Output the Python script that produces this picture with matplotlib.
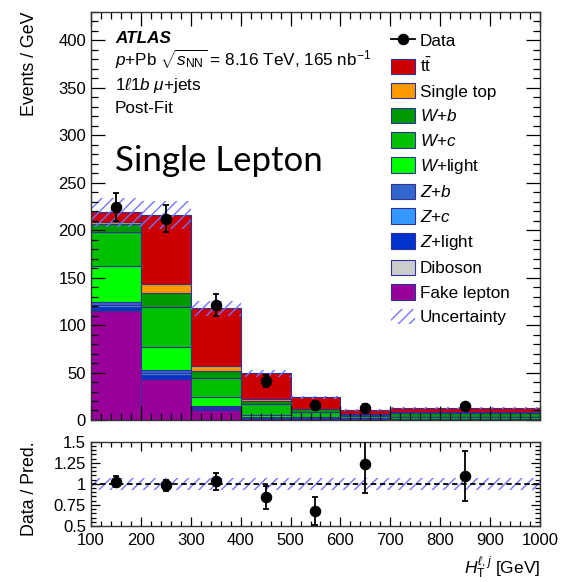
import numpy as np
import matplotlib
matplotlib.use("Agg")
import matplotlib.pyplot as plt
from matplotlib.patches import Patch
from matplotlib.lines import Line2D
from matplotlib.ticker import MultipleLocator, FixedLocator, FuncFormatter

plt.rcParams['font.family'] = ['Liberation Sans', 'DejaVu Sans']
plt.rcParams['mathtext.fontset'] = 'custom'
plt.rcParams['mathtext.rm'] = 'Liberation Sans'
plt.rcParams['mathtext.it'] = 'Liberation Sans:italic'
plt.rcParams['mathtext.bf'] = 'Liberation Sans:bold'
plt.rcParams['hatch.linewidth'] = 1.0

# binning in H_T (GeV)
bin_edges = [100, 200, 300, 400, 500, 600, 700, 1000]
bin_centers = [150, 250, 350, 450, 550, 650, 850]

# post-fit predictions, events / GeV, stacked bottom -> top
fake_lepton = [115.0, 43.2, 10.5, 1.5, 0.8, 0.3, 0.2]
diboson = [0.5, 0.5, 0.3, 0.2, 0.1, 0.1, 0.1]
z_light = [4.0, 3.5, 2.0, 0.8, 0.3, 0.3, 0.2]
z_c = [2.0, 2.5, 1.0, 0.5, 0.3, 0.2, 0.2]
z_b = [2.5, 3.0, 1.0, 0.5, 0.3, 0.2, 0.3]
w_light = [38.0, 24.5, 9.8, 1.8, 1.5, 0.5, 0.4]
w_c = [35.6, 42.1, 19.3, 11.5, 5.5, 2.5, 2.0]
w_b = [9.4, 14.1, 7.7, 3.5, 2.5, 1.5, 4.4]
single_top = [2.0, 9.8, 5.3, 1.4, 0.6, 0.4, 0.5]
ttbar = [9.7, 72.7, 60.7, 27.5, 12.0, 4.5, 4.7]

data = [224.7, 212.3, 121.0, 41.3, 16.2, 13.0, 14.2]
data_err = [15.0, 14.7, 11.6, 6.5, 4.1, 3.6, 3.9]
rel_syst = [0.07, 0.07, 0.07, 0.07, 0.07, 0.07, 0.07]

samples = [
    (fake_lepton, '#990099', 'Fake lepton'),
    (diboson, '#cccccc', 'Diboson'),
    (z_light, '#0033cc', r'$Z$+light'),
    (z_c, '#3399ff', r'$Z$+$c$'),
    (z_b, '#3366cc', r'$Z$+$b$'),
    (w_light, '#00ff00', r'$W$+light'),
    (w_c, '#00c000', r'$W$+$c$'),
    (w_b, '#009900', r'$W$+$b$'),
    (single_top, '#ff9900', 'Single top'),
    (ttbar, '#cc0000', r'$\mathrm{t\bar{t}}$'),
]

edges = np.array(bin_edges, dtype=float)
widths = np.diff(edges)
centers = np.array(bin_centers, dtype=float)

fig = plt.figure(figsize=(5.74, 5.82), dpi=100)
ax = fig.add_axes([0.1585, 0.2784, 0.7823, 0.7010])
axr = fig.add_axes([0.1585, 0.0962, 0.7823, 0.1449], sharex=ax)

outline = '#30309a'
hatch_col = '#7373ff'
bottom = np.zeros(len(widths))
for vals, col, lab in samples:
    v = np.array(vals)
    ax.bar(edges[:-1], v, width=widths, bottom=bottom, align='edge',
           color=col, edgecolor=outline, linewidth=0.8)
    bottom = bottom + v
total = bottom

unc = total * np.array(rel_syst)
ax.bar(edges[:-1], 2 * unc, width=widths, bottom=total - unc, align='edge',
       fill=False, hatch='///', edgecolor=hatch_col, linewidth=0)

ax.errorbar(centers, data, yerr=data_err, fmt='o', color='k', ms=7.3,
            elinewidth=1.3, capsize=2.5, capthick=1.3, zorder=5)

ax.set_xlim(100, 1000)
ax.set_ylim(0, 430)
ax.yaxis.set_major_locator(MultipleLocator(50))
ax.yaxis.set_minor_locator(MultipleLocator(10))
ax.xaxis.set_major_locator(MultipleLocator(100))
ax.xaxis.set_minor_locator(MultipleLocator(20))
ax.tick_params(axis='both', which='both', direction='in', top=True, right=True,
               labelsize=12, labelbottom=False)
ax.tick_params(which='major', length=10, width=0.9)
ax.tick_params(which='minor', length=5, width=0.9)

# ratio panel
ratio = np.array(data) / total
ratio_err = np.array(data_err) / total
axr.bar(edges[:-1], 2 * np.array(rel_syst), width=widths, bottom=1 - np.array(rel_syst),
        align='edge', fill=False, hatch='///', edgecolor=hatch_col, linewidth=0)
axr.axhline(1.0, color='k', ls='--', lw=1.3, dashes=(3, 2))
axr.errorbar(centers, ratio, yerr=ratio_err, fmt='o', color='k', ms=7.3,
             elinewidth=1.3, capsize=2.5, capthick=1.3, zorder=5)
axr.set_ylim(0.5, 1.5)
axr.yaxis.set_major_locator(FixedLocator([0.5, 0.75, 1.0, 1.25, 1.5]))
axr.yaxis.set_minor_locator(MultipleLocator(0.05))
axr.yaxis.set_major_formatter(FuncFormatter(lambda v, p: '%g' % v))
axr.tick_params(axis='both', which='both', direction='in', top=True, right=True,
                labelsize=12)
axr.tick_params(axis='x', pad=5)
axr.tick_params(which='major', length=6.5, width=0.9)
axr.tick_params(which='minor', length=3.5, width=0.9)

for a in (ax, axr):
    for s in a.spines.values():
        s.set_linewidth(1.0)
        s.set_color('#333333')

fig.text(30 / 574, 1 - 12 / 582, 'Events / GeV', rotation=90, ha='center', va='top', fontsize=12.8)
fig.text(30 / 574, 1 - 441 / 582, 'Data / Pred.', rotation=90, ha='center', va='top', fontsize=12.8)
fig.text(540 / 574, 1 - 574 / 582, r'$H_{\mathrm{T}}^{\ell,j}$ [GeV]', ha='right',
         va='baseline', fontsize=12.5)

# labels inside the top panel
x0 = 115 / 574
fig.text(x0, 1 - 43 / 582, 'ATLAS', fontsize=12.3, fontweight='bold', fontstyle='italic',
         va='baseline')
fig.text(x0, 1 - 66 / 582, r'$p$+Pb $\sqrt{s_{\mathrm{NN}}}$ = 8.16 TeV, 165 nb$^{-1}$',
         fontsize=12.3, va='baseline')
fig.text(x0, 1 - 90 / 582, r'1$\ell$1$b$ $\mu$+jets', fontsize=12.3, va='baseline')
fig.text(x0, 1 - 113 / 582, 'Post-Fit', fontsize=12.3, va='baseline')
fig.text(x0, 1 - 171 / 582, 'Single Lepton', fontsize=25, va='baseline',
         family=['Lato', 'DejaVu Sans'])

handles = [Line2D([], [], color='k', marker='o', ms=7.3, lw=1.3)]
labels = ['Data']
for vals, col, lab in reversed(samples):
    handles.append(Patch(facecolor=col, edgecolor=outline, linewidth=0.8))
    labels.append(lab)
handles.append(Patch(fill=False, hatch='///', edgecolor=hatch_col, linewidth=0))
labels.append('Uncertainty')
ax.legend(handles, labels, loc='upper left', bbox_to_anchor=(0.668, 0.95),
          frameon=False, fontsize=12.3, handlelength=1.38, handleheight=1.0,
          handletextpad=0.3, labelspacing=0.47, borderpad=0, borderaxespad=0)

fig.savefig('out.png', dpi=100)
